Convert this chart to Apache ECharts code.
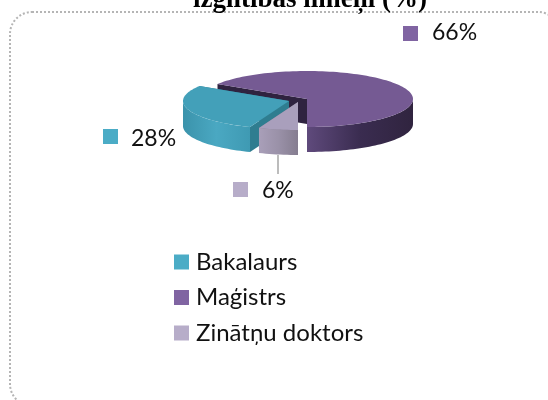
<!DOCTYPE html>
<html><head><meta charset="utf-8">
<style>html,body{margin:0;padding:0;background:#fff}#c{width:548px;height:400px}</style>
<script src="https://cdn.jsdelivr.net/npm/echarts@6/dist/echarts.min.js"></script>
</head><body><div id="c"></div>
<script>
// Data
const categories = ['Bakalaurs', 'Maģistrs', 'Zinātņu doktors'];
const values = [28, 66, 6];
const titleText = 'izglītības līmeņi (%)';
// Drawing order and start of the pie
const drawOrder = ['Maģistrs', 'Bakalaurs', 'Zinātņu doktors'];
const startAngle = 270;
const style = {
  'Bakalaurs': {key:'#4bacc6', top:'#43a0b9', wall:['#3b93ab','#4aa8c2','#3f9ab3'], cut:'#2f7d90',
    center:[289,101], box:[103,129], text:[131,139]},
  'Maģistrs': {key:'#8064a2', top:'#755a93', wall:['#5f4a7c','#3a2c50','#30243f'], cut:'#2f2340',
    center:[307,99], box:[403,26], text:[432,33]},
  'Zinātņu doktors': {key:'#b7adc9', top:'#a99fbc', wall:['#a99fb9','#9a91a8','#857d90'], cut:'#857d90',
    center:[298,102], box:[233,182], text:[262,191]}
};
const A = 106, B = 28, H = 25, BOX = 15;

const total = values.reduce((a, b) => a + b, 0);
const spans = {};
let cur = startAngle;
drawOrder.forEach(n => {
  const v = values[categories.indexOf(n)];
  spans[n] = [cur, cur + v / total * 360];
  cur = spans[n][1];
});
function pt(c, deg, dy) {
  const r = deg * Math.PI / 180;
  return [c[0] + A * Math.cos(r), c[1] - B * Math.sin(r) + (dy || 0)];
}
function arc(c, a0, a1, dy) {
  const n = Math.max(2, Math.ceil(Math.abs(a1 - a0) / 2));
  const out = [];
  for (let i = 0; i <= n; i++) out.push(pt(c, a0 + (a1 - a0) * i / n, dy));
  return out;
}
function frontRange(a0, a1) {
  const res = [];
  [[180, 360], [540, 720]].forEach(w => {
    const s = Math.max(a0, w[0]), e = Math.min(a1, w[1]);
    if (e > s) res.push([s, e]);
  });
  return res;
}
function poly(points, fill, z2) {
  return {type:'polygon', shape:{points}, style:{fill, stroke:null}, z2};
}
function series(name, zIndex) {
  const s = style[name], span = spans[name], c = s.center;
  const value = values[categories.indexOf(name)];
  return {
    type:'custom', name, coordinateSystem:'none', z:zIndex, silent:true,
    itemStyle:{color:s.key}, data:[value], clip:false,
    renderItem(params, api) {
      const kids = [];
      const v0 = pt(c, span[0]), v1 = pt(c, span[1]);
      kids.push(poly([c, v0, pt(c, span[0], H), [c[0], c[1] + H]], s.cut, 1));
      kids.push(poly([c, v1, pt(c, span[1], H), [c[0], c[1] + H]], s.cut, 1));
      frontRange(span[0], span[1]).forEach(r => {
        const pts = arc(c, r[0], r[1]).concat(arc(c, r[1], r[0], H));
        const grad = {type:'linear', x:0, y:0, x2:1, y2:0, colorStops:[
          {offset:0, color: s.wall[0]}, {offset:0.5, color: s.wall[1]}, {offset:1, color: s.wall[2]}]};
        kids.push(poly(pts, grad, 2));
      });
      kids.push(poly([c].concat(arc(c, span[0], span[1])), s.top, 3));
      kids.push({type:'rect', shape:{x:s.box[0], y:s.box[1], width:BOX, height:BOX},
        style:{fill:s.key}, z2:4});
      kids.push({type:'text', x:s.text[0], y:s.text[1], z2:4, style:{
        text: value + '%', font:'23px Lato', fill:'#111', textVerticalAlign:'middle', textAlign:'left'}});
      return {type:'group', children:kids};
    }
  };
}
const chart = echarts.init(document.getElementById('c'), null, {renderer:'canvas'});
chart.setOption({
  animation:false,
  backgroundColor:'#fff',
  title:{text:titleText, left:305, textAlign:'center', top:-18,
    textStyle:{fontFamily:'Liberation Serif', fontWeight:'bold', fontSize:27, color:'#000'}},
  legend:{orient:'vertical', left:169, top:245, itemWidth:15, itemHeight:15, itemGap:11.5,
    icon:'rect', data:categories, selectedMode:false,
    textStyle:{fontFamily:'Lato', fontSize:24, lineHeight:24, color:'#111', padding:[0,0,0,2]}},
  graphic:[
    {type:'rect', z:0, silent:true, shape:{x:10, y:12, width:550, height:394, r:22},
      style:{fill:null, stroke:'#b5b5b5', lineWidth:2, lineDash:[2,2]}},
    {type:'line', z:5, silent:true, shape:{x1:278, y1:155, x2:278, y2:174},
      style:{stroke:'#a6a6a6', lineWidth:1.5}}
  ],
  series: drawOrder.map((n, i) => series(n, 2 + i))
});
</script></body></html>
